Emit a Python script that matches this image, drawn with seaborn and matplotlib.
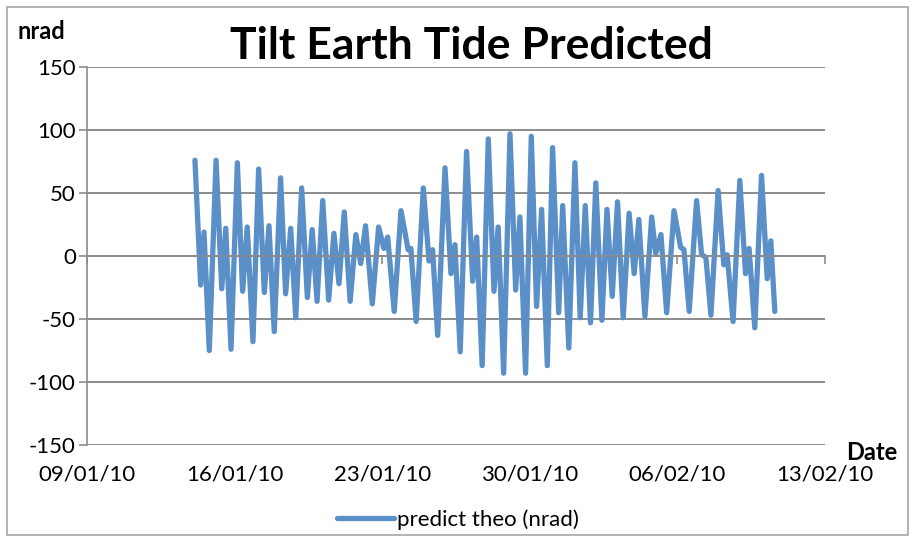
"""Tilt earth tide prediction, Excel-style line chart."""

import matplotlib.dates as mdates
import matplotlib.pyplot as plt
import pandas as pd
import seaborn as sns
from matplotlib.patches import Rectangle

# extrema: days after 09/01/10 and tilt in nrad
DAY = [
    5.12, 5.39, 5.55, 5.80, 6.12, 6.39, 6.58, 6.83, 7.13, 7.38, 7.60, 7.87,
    8.14, 8.41, 8.63, 8.88, 9.18, 9.42, 9.66, 9.90, 10.18, 10.45, 10.68, 10.91,
    11.18, 11.46, 11.71, 11.95, 12.20, 12.48, 12.75, 12.98, 13.21, 13.53, 13.83,
    14.08, 14.26, 14.57, 14.89, 15.23, 15.36, 15.61, 15.95, 16.22, 16.39, 16.63,
    16.98, 17.26, 17.45, 17.70, 18.00, 18.29, 18.48, 18.74, 19.03, 19.30, 19.50,
    19.76, 20.06, 20.33, 20.53, 20.80, 21.07, 21.32, 21.56, 21.83, 22.08, 22.37,
    22.56, 22.85, 23.14, 23.39, 23.63, 23.88, 24.13, 24.42, 24.66, 24.91, 25.16,
    25.43, 25.71, 25.95, 26.17, 26.46, 26.78, 26.97, 27.22, 27.49, 27.84, 28.15,
    28.31, 28.56, 28.91, 29.15, 29.35, 29.59, 29.93, 30.20, 30.36, 30.64, 30.96,
    31.23, 31.40, 31.67, 31.99, 32.26, 32.43, 32.62,
]
TILT = [
    76, -23, 19, -75, 76, -26, 22, -74, 74, -28, 23, -68,
    69, -29, 24, -60, 62, -30, 22, -49, 54, -33, 21, -36,
    44, -35, 18, -22, 35, -36, 17, -6, 24, -38, 23,
    6, 15, -44, 36, 5, 6, -52, 54, -4, 5, -63,
    70, -14, 9, -76, 83, -20, 15, -87, 93, -28, 23,
    -93, 97, -27, 31, -93, 95, -40, 37, -87, 86, -45,
    40, -73, 74, -49, 40, -53, 58, -51, 37, -32, 43,
    -49, 34, -14, 29, -48, 31, 2, 17, -45, 36, 7,
    5, -44, 44, 1, -1, -47, 52, -7, 1, -52, 60,
    -14, 6, -57, 64, -18, 12, -44,
]
Y_TICKS = [-150, -100, -50, 0, 50, 100, 150]
START, END = "2010-01-09", "2010-02-13"

BLUE = "#5b8fc8"
GRID = "#8c8c8c"
FONT = ["Lato", "DejaVu Sans"]

sns.set_theme(style="white")
plt.rcParams["font.family"] = FONT
plt.rcParams["axes.unicode_minus"] = False
plt.rcParams["text.color"] = "black"
plt.rcParams["xtick.color"] = "black"
plt.rcParams["ytick.color"] = "black"

df = pd.DataFrame({
    "date": pd.Timestamp(START) + pd.to_timedelta(DAY, unit="D"),
    "tilt": TILT,
})

fig = plt.figure(figsize=(9.15, 5.42), dpi=100)
ax = fig.add_axes([87 / 915, 1 - 445 / 542, (825 - 87) / 915, (445 - 67) / 542])

sns.lineplot(data=df, x="date", y="tilt", color=BLUE, linewidth=3.8,
             label="predict theo (nrad)", ax=ax, legend=False)
ax.lines[0].set_solid_joinstyle("round")
ax.lines[0].set_solid_capstyle("round")

ax.set_xlim(pd.Timestamp(START), pd.Timestamp(END))
ax.set_ylim(-150, 150)
ax.set_yticks(Y_TICKS)
ax.yaxis.grid(True, color=GRID, linewidth=1.4)
ax.set_axisbelow(True)
ax.tick_params(axis="y", direction="out", length=6, width=1.2, color=GRID,
               labelsize=16, pad=2, left=True, labelcolor="black")

# horizontal axis crosses at zero, labels stay at the bottom
for side in ["top", "right"]:
    ax.spines[side].set_visible(False)
ax.spines["left"].set_color(GRID)
ax.spines["left"].set_linewidth(1.2)
ax.spines["bottom"].set_position(("data", 0))
ax.spines["bottom"].set_color(GRID)
ax.spines["bottom"].set_linewidth(1.2)
ax.xaxis.set_major_locator(mdates.DayLocator(interval=7))
ax.tick_params(axis="x", direction="out", length=6, width=1.2, color=GRID,
               labelbottom=False, bottom=True)

sec = ax.secondary_xaxis(0.0)
sec.xaxis.set_major_locator(mdates.DayLocator(interval=7))
sec.xaxis.set_major_formatter(mdates.DateFormatter("%d/%m/%y"))
sec.tick_params(length=0, labelsize=16, pad=14, labelcolor="black")
sec.spines["bottom"].set_visible(False)

ax.set_xlabel("")
ax.set_ylabel("")

fig.text(0.515, 0.916, "Tilt Earth Tide Predicted", ha="center", va="center",
         fontsize=32, fontweight="bold", color="black")
fig.text(0.019, 0.942, "nrad", ha="left", va="center", fontsize=17,
         fontweight="bold", color="black")
fig.text(0.981, 0.165, "Date", ha="right", va="center", fontsize=17,
         fontweight="bold", color="black")

handles, labels = ax.get_legend_handles_labels()
leg = fig.legend(handles, labels, loc="center", bbox_to_anchor=(0.5, 0.041),
                 frameon=False, fontsize=16, handlelength=2.6, handletextpad=0.1)
for text in leg.get_texts():
    text.set_color("black")

fig.patches.append(Rectangle((7 / 915, 7 / 542), 901 / 915, 528 / 542,
                             transform=fig.transFigure, fill=False,
                             edgecolor="#a6a6a6", linewidth=1.2))

fig.savefig("out.png", dpi=100)
